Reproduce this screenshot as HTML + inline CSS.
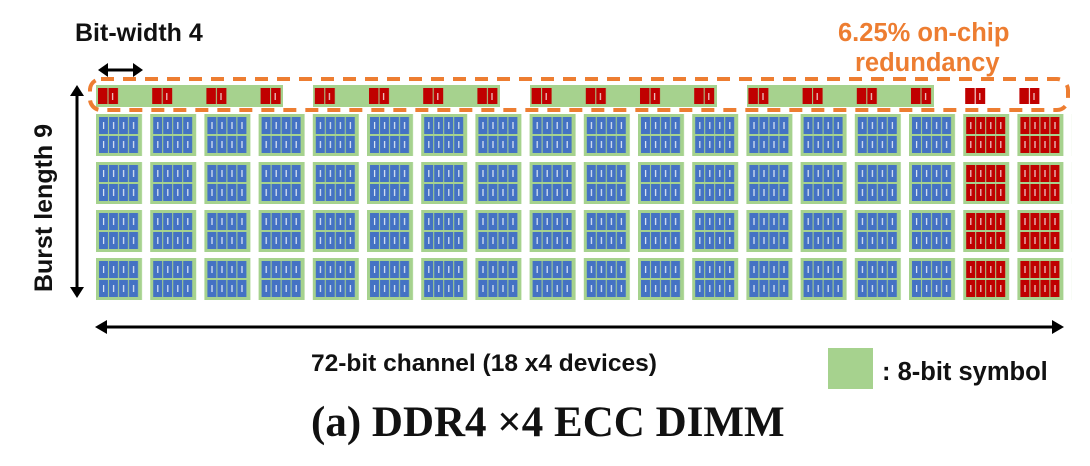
<!DOCTYPE html>
<html><head><meta charset="utf-8"><style>
html,body{margin:0;padding:0;background:#fff;width:1090px;height:466px;overflow:hidden}
svg{display:block}
.t{font-family:"Liberation Sans",sans-serif;font-weight:bold}
</style></head><body>
<svg width="1090" height="466" viewBox="0 0 1090 466">
<defs>
<pattern id="pb" patternUnits="userSpaceOnUse" x="96" y="114" width="54.2" height="48">
<rect x="0" y="0" width="46" height="42" fill="#a6d28e"/>
<g fill="#4472c4">
<rect x="3" y="3" width="9" height="17"/><rect x="13" y="3" width="9" height="17"/><rect x="23" y="3" width="9" height="17"/><rect x="33" y="3" width="9" height="17"/>
<rect x="3" y="22" width="9" height="17"/><rect x="13" y="22" width="9" height="17"/><rect x="23" y="22" width="9" height="17"/><rect x="33" y="22" width="9" height="17"/>
</g>
<g fill="#dfe8f5">
<rect x="7" y="8" width="1.2" height="7"/><rect x="17" y="8" width="1.2" height="7"/><rect x="27" y="8" width="1.2" height="7"/><rect x="37" y="8" width="1.2" height="7"/>
<rect x="7" y="27" width="1.2" height="7"/><rect x="17" y="27" width="1.2" height="7"/><rect x="27" y="27" width="1.2" height="7"/><rect x="37" y="27" width="1.2" height="7"/>
</g>
</pattern>
<pattern id="pr" patternUnits="userSpaceOnUse" x="96" y="114" width="54.2" height="48">
<rect x="0" y="0" width="46" height="42" fill="#a6d28e"/>
<g fill="#c00000">
<rect x="3" y="3" width="9" height="17"/><rect x="13" y="3" width="9" height="17"/><rect x="23" y="3" width="9" height="17"/><rect x="33" y="3" width="9" height="17"/>
<rect x="3" y="22" width="9" height="17"/><rect x="13" y="22" width="9" height="17"/><rect x="23" y="22" width="9" height="17"/><rect x="33" y="22" width="9" height="17"/>
</g>
<g fill="#f0d0d0">
<rect x="7" y="8" width="1.2" height="7"/><rect x="17" y="8" width="1.2" height="7"/><rect x="27" y="8" width="1.2" height="7"/><rect x="37" y="8" width="1.2" height="7"/>
<rect x="7" y="27" width="1.2" height="7"/><rect x="17" y="27" width="1.2" height="7"/><rect x="27" y="27" width="1.2" height="7"/><rect x="37" y="27" width="1.2" height="7"/>
</g>
</pattern>
<pattern id="pt" patternUnits="userSpaceOnUse" x="96" y="88" width="54.2" height="20">
<rect x="2" y="0" width="9.5" height="16" fill="#c00000"/><rect x="12.5" y="0" width="9.5" height="16" fill="#c00000"/>
<rect x="16" y="5" width="1.2" height="7" fill="#f0d0d0"/>
</pattern>
</defs>

<text class="t" x="75" y="41" font-size="25" fill="#111">Bit-width 4</text>
<text class="t" x="838" y="41" font-size="25.5" fill="#ed7d31">6.25% on-chip</text>
<text class="t" x="855" y="71" font-size="25.5" fill="#ed7d31">redundancy</text>

<g fill="#a6d28e">
<rect x="96" y="85" width="187" height="22"/>
<rect x="313" y="85" width="187" height="22"/>
<rect x="530" y="85" width="187" height="22"/>
<rect x="747" y="85" width="187" height="22"/>
</g>
<rect x="96" y="88" width="976" height="16" fill="url(#pt)"/>
<rect x="90" y="79" width="978" height="31" rx="11" fill="none" stroke="#ed7d31" stroke-width="4" stroke-dasharray="13,9"/>

<line x1="106" y1="70" x2="134" y2="70" stroke="#000" stroke-width="3"/>
<polygon points="98,70 108,63 108,77" fill="#000"/>
<polygon points="143,70 133,63 133,77" fill="#000"/>

<rect x="96" y="114" width="867.2" height="192" fill="url(#pb)"/>
<rect x="963.2" y="114" width="108.4" height="192" fill="url(#pr)"/>

<line x1="77" y1="94" x2="77" y2="288" stroke="#000" stroke-width="3"/>
<polygon points="77,85 70,96 84,96" fill="#000"/>
<polygon points="77,298 70,287 84,287" fill="#000"/>
<text class="t" font-size="25" fill="#111" transform="translate(52,208) rotate(-90)" text-anchor="middle">Burst length 9</text>

<line x1="104" y1="327" x2="1054" y2="327" stroke="#000" stroke-width="3"/>
<polygon points="95,327 107,320 107,334" fill="#000"/>
<polygon points="1064,327 1052,320 1052,334" fill="#000"/>

<text class="t" x="311" y="371" font-size="24.5" fill="#111">72-bit channel (18 x4  devices)</text>
<rect x="828" y="348" width="45" height="41" fill="#a6d28e"/>
<text class="t" x="882" y="380" font-size="25.5" fill="#111">: 8-bit symbol</text>

<text x="311" y="436" font-family="'Liberation Serif',serif" font-weight="bold" font-size="43" fill="#111">(a) DDR4 ×4 ECC DIMM</text>
</svg>
</body></html>
